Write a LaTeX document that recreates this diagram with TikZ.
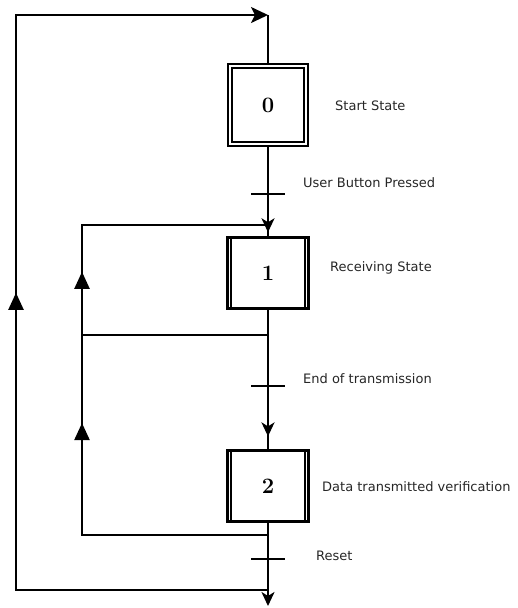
\documentclass[tikz,border=0pt]{standalone}
\usepackage{fontspec}
\setsansfont{DejaVu Sans}
\usetikzlibrary{positioning, arrows.meta, decorations.markings}

\tikzset{
  initbox/.style={draw, line width=2pt, double, double distance=2pt,
    minimum width=76pt, minimum height=78pt, inner sep=0pt,
    font=\fontsize{22}{24}\selectfont\bfseries},
  stepbox/.style={draw, line width=2.2pt, minimum width=81pt, minimum height=71pt,
    inner sep=0pt, font=\fontsize{22}{24}\selectfont\bfseries},
  note/.style={anchor=west, inner sep=0pt, text=black!85,
    font=\sffamily\fontsize{13}{15}\selectfont},
  flow/.style={line width=2.2pt},
  tick/.style={line width=2.2pt},
  upmark/.style={postaction={decorate}, decoration={markings,
    mark=at position #1 with {\arrow{Triangle[width=15pt,length=17pt]}}}},
  downmark/.style={postaction={decorate}, decoration={markings,
    mark=at position #1 with {\arrow{Stealth[width=13pt,length=14pt,inset=4pt]}}}}
}

\begin{document}
\begin{tikzpicture}[x=1pt, y=-1pt, on grid]
  \useasboundingbox (0,0) rectangle (517,608);

  % steps
  \node[initbox] (s0) at (268,105) {0};
  \node[stepbox] (s1) [below=168pt of s0] {1};
  \node[stepbox] (s2) [below=213pt of s1] {2};
  \foreach \s in {s1, s2} {
    \draw[line width=2pt] ([xshift=4.5pt]\s.north west) -- ([xshift=4.5pt]\s.south west);
    \draw[line width=2pt] ([xshift=-4.5pt]\s.north east) -- ([xshift=-4.5pt]\s.south east);
  }

  % labels
  \node[note] (n0) at (335,106) {Start State};
  \node[note] (n1) at (330,268) {Receiving State};
  \node[note] (n2) at (322,487) {Data transmitted verification};
  \node[note] (c0) at (303,183) {User Button Pressed};
  \node[note] (c1) at (303,379) {End of transmission};
  \node[note] (c2) at (316,556) {Reset};

  % points on the lines
  \coordinate (t0) at (268,194);
  \coordinate (t1) at (268,386);
  \coordinate (t2) at (268,559);
  \coordinate (top) at (268,15);
  \coordinate (tl) at (16,15);
  \coordinate (bl) at (16,590);
  \coordinate (bm) at (268,590);
  \coordinate (out) at (268,606);
  \coordinate (la) at (268,225);
  \coordinate (lb) at (82,225);
  \coordinate (lc) at (82,335);
  \coordinate (ld) at (268,335);
  \coordinate (le) at (268,535);
  \coordinate (lf) at (82,535);

  % main line
  \draw[flow] (top) -- (s0.north);
  \draw[flow, downmark=0.955] (s0.south) -- (s1.north);
  \draw[flow, downmark=0.907] (s1.south) -- (s2.north);
  \draw[flow, -{Stealth[width=13pt,length=14pt,inset=4pt]}] (s2.south) -- (out);

  % transitions
  \foreach \t in {t0, t1, t2}
    \draw[tick] ([xshift=-17pt]\t) -- ([xshift=17pt]\t);

  % loops back
  \draw[flow, upmark=0.517] (ld) -- (lc) -- (lb) -- (la);
  \draw[flow, upmark=0.772] (le) -- (lf) -- (lc);
  \draw[flow, upmark=0.509, -{Stealth[width=16pt,length=17pt,inset=4pt]}]
    (bm) -- (bl) -- (tl) -- (top);
\end{tikzpicture}
\end{document}
